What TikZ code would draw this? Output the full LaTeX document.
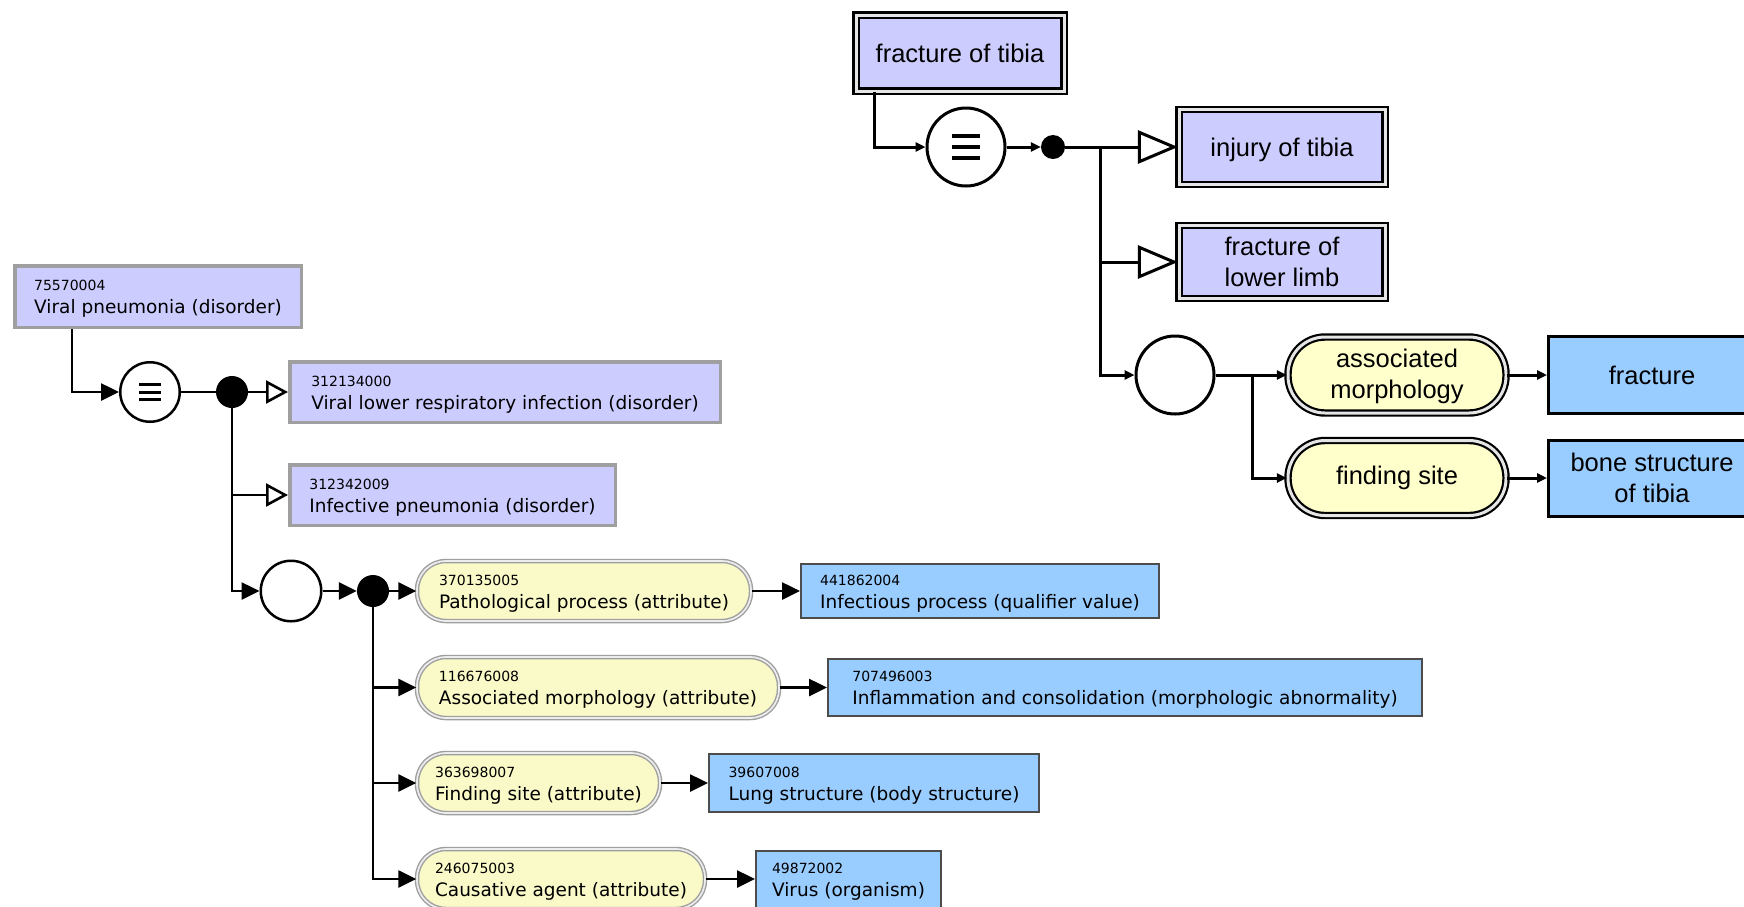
\documentclass[tikz,border=0pt]{standalone}
\usepackage{fontspec}
\setmainfont{Liberation Sans}
\newfontfamily\dvs{DejaVu Sans}
\usetikzlibrary{arrows.meta}
\definecolor{lav}{HTML}{CCCCFF}
\definecolor{yelR}{HTML}{FFFFCC}
\definecolor{yelL}{HTML}{FAFAC8}
\definecolor{blu}{HTML}{99CCFF}
\newcommand{\snomedid}[1]{{\fontsize{14}{23}\selectfont\rule{0pt}{15.5pt}#1}}
\begin{document}
\begin{tikzpicture}[x=1pt,y=-1pt,
  lfont/.style={font=\dvs\fontsize{18.5}{23}\selectfont},
  lconc/.style={lfont, rectangle, fill=lav, draw=gray!75, line width=3.5pt, align=left, inner sep=2pt},
  lattr/.style={lfont, rectangle, rounded corners=29pt, fill=yelL, draw=gray!75, double=gray!15, line width=1.4pt, double distance=1.7pt, align=left, inner sep=2pt},
  lval/.style={lfont, rectangle, fill=blu, draw=black!70, line width=2pt, align=left, inner sep=2pt},
  rfont/.style={font=\fontsize{25.5}{31}\selectfont},
  rconc/.style={rfont, rectangle, fill=lav, draw=black, line width=2.2pt, double=gray!20, double distance=3pt, align=center, inner sep=2pt},
  rattr/.style={rfont, rectangle, rounded corners=37pt, fill=yelR, draw=black, line width=2.2pt, double=gray!20, double distance=3pt, align=center, inner sep=2pt},
  rval/.style={rfont, rectangle, fill=blu, draw=black, line width=3pt, align=center, inner sep=2pt},
  lcirc/.style={circle, draw=black, line width=2.5pt, fill=white, inner sep=0pt},
  rcirc/.style={circle, draw=black, line width=3pt, fill=white, inner sep=0pt},
  ldot/.style={circle, fill=black, inner sep=0pt, minimum size=32pt},
  rdot/.style={circle, fill=black, inner sep=0pt, minimum size=24pt},
  lline/.style={line width=2.6pt},
  larr/.style={lline, -{Triangle[length=18pt,width=17pt]}},
  lopen/.style={lline, -{Triangle[length=22pt,width=23pt,fill=white]}},
  rline/.style={line width=3pt},
  rarr/.style={rline, -{Triangle[length=10pt,width=9pt]}},
  ropen/.style={rline, -{Triangle[length=40pt,width=33pt,fill=white]}},
  lbar/.style={line width=3pt},
  rbar/.style={line width=4pt}
]
\clip (0,0) rectangle (1744,906);
\fill[white] (0,0) rectangle (1744,906);

% ---------------- left diagram ----------------
\node[lconc, minimum width=286.5pt, minimum height=61.5pt] (vp) at (158,296.5)
  {\snomedid{75570004}\\Viral pneumonia (disorder)};
\node[lcirc, minimum size=59.5pt] (eq1) at (150,392) {};
\node[ldot] (d1) at (232,392) {};
\node[lconc, minimum width=430.5pt, minimum height=60.5pt] (l2) at (505,392)
  {\snomedid{312134000}\\Viral lower respiratory infection (disorder)};
\node[lconc, minimum width=325.5pt, minimum height=60.5pt] (l3) at (452.5,495)
  {\snomedid{312342009}\\Infective pneumonia (disorder)};
\node[lcirc, minimum size=60.5pt] (c2) at (291,591) {};
\node[ldot] (d2) at (373,591) {};

\node[lattr, minimum width=334pt, minimum height=60pt] (y1) at (584,591)
  {\snomedid{370135005}\\Pathological process (attribute)};
\node[lattr, minimum width=362pt, minimum height=61pt] (y2) at (598,687.5)
  {\snomedid{116676008}\\Associated morphology (attribute)};
\node[lattr, minimum width=243pt, minimum height=60pt] (y3) at (538.5,783)
  {\snomedid{363698007}\\Finding site (attribute)};
\node[lattr, minimum width=288pt, minimum height=60pt] (y4) at (561,879)
  {\snomedid{246075003}\\Causative agent (attribute)};

\node[lval, minimum width=358pt, minimum height=54pt] (b1) at (980,591)
  {\snomedid{441862004}\\Infectious process (qualifier value)};
\node[lval, minimum width=594pt, minimum height=57pt] (b2) at (1125,687.5)
  {\snomedid{707496003}\\Inflammation and consolidation (morphologic abnormality)};
\node[lval, minimum width=330pt, minimum height=58pt] (b3) at (874,783)
  {\snomedid{39607008}\\Lung structure (body structure)};
\node[lval, minimum width=185pt, minimum height=57pt] (b4) at (848.5,879)
  {\snomedid{49872002}\\Virus (organism)};

\draw[lbar] ([shift={(-11,-7.5)}]eq1.center) -- ++(22,0);
\draw[lbar] ([shift={(-11,0)}]eq1.center) -- ++(22,0);
\draw[lbar] ([shift={(-11,7.5)}]eq1.center) -- ++(22,0);

\draw[larr] ([xshift=59pt]vp.south west) |- (eq1.west);
\draw[lline] (eq1.east) -- (d1.west);
\draw[lopen] (d1.east) -- (l2.west);
\draw[lopen] (d1.center) |- (l3.west);
\draw[larr] (d1.center) |- (c2.west);
\draw[larr] (c2.east) -- (d2.west);
\draw[larr] (d2.east) -- (y1.west);
\draw[larr] (d2.center) |- (y2.west);
\draw[larr] (d2.center) |- (y3.west);
\draw[larr] (d2.center) |- (y4.west);
\draw[larr] (y1.east) -- (b1.west);
\draw[larr] (y2.east) -- (b2.west);
\draw[larr] (y3.east) -- (b3.west);
\draw[larr] (y4.east) -- (b4.west);

% ---------------- right diagram ----------------
\node[rconc, minimum width=208pt, minimum height=76pt] (ft) at (960,53) {fracture of tibia};
\node[rcirc, minimum size=78pt] (eq2) at (966,147) {};
\node[rdot] (dot2) at (1053,147) {};
\node[rconc, minimum width=206pt, minimum height=75pt, text depth=0pt] (it) at (1282,147) {injury of tibia};
\node[rconc, minimum width=206pt, minimum height=73pt] (fl) at (1282,262) {fracture of\\lower limb};
\node[rcirc, minimum size=78pt] (c3) at (1175,375) {};
\node[rattr, minimum width=218pt, minimum height=76pt] (am) at (1397,375) {\rule{0pt}{22pt}associated\\morphology};
\node[rattr, minimum width=218pt, minimum height=75pt] (fs) at (1397,478) {finding site};
\node[rval, minimum width=207pt, minimum height=77pt] (frac) at (1652,375) {fracture};
\node[rval, minimum width=207pt, minimum height=76pt] (bst) at (1652,478) {bone structure\\of tibia};
\coordinate (j1) at (1100,147);
\coordinate (j2) at (1252,375);

\draw[rbar] ([shift={(-14,-11)}]eq2.center) -- ++(28,0);
\draw[rbar] ([shift={(-14,0)}]eq2.center) -- ++(28,0);
\draw[rbar] ([shift={(-14,11)}]eq2.center) -- ++(28,0);

\draw[rarr] ([xshift=20pt]ft.south west) |- (eq2.west);
\draw[rarr] (eq2.east) -- (dot2.west);
\draw[ropen] (dot2.east) -- (it.west);
\draw[ropen] (j1) |- (fl.west);
\draw[rarr] (j1) |- (c3.west);
\draw[rline] (c3.east) -- (j2);
\draw[rarr] (j2) -- (am.west);
\draw[rarr] (j2) |- (fs.west);
\draw[rarr] (am.east) -- (frac.west);
\draw[rarr] (fs.east) -- (bst.west);
\end{tikzpicture}
\end{document}
